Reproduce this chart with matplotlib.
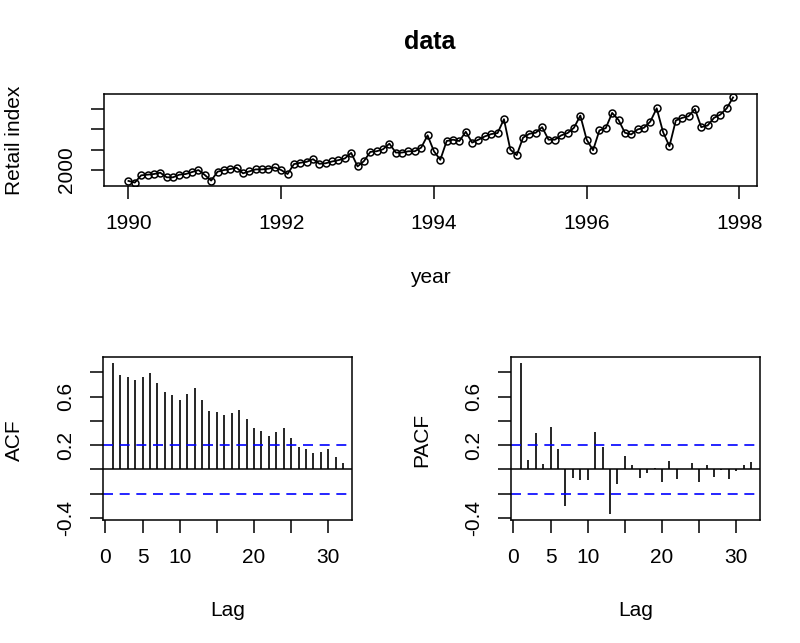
import matplotlib
matplotlib.use('Agg')
from matplotlib import pyplot as plt
import numpy as np

plt.rcParams['font.family'] = ['Liberation Sans', 'DejaVu Sans']

# monthly retail index, 1990-01 .. 1997-12
retail = [1732, 1691, 1870, 1886, 1902, 1935, 1821, 1821, 1886, 1902, 1951, 2000,
          1878, 1740, 1959, 2000, 2024, 2057, 1919, 1967, 2016, 2016, 2033, 2065,
          2000, 1902, 2146, 2179, 2203, 2268, 2154, 2167, 2211, 2244, 2285, 2423,
          2089, 2220, 2447, 2463, 2512, 2650, 2431, 2431, 2463, 2463, 2553, 2854,
          2463, 2252, 2715, 2748, 2715, 2943, 2675, 2748, 2829, 2886, 2911, 3252,
          2504, 2366, 2797, 2894, 2919, 3057, 2748, 2748, 2854, 2911, 3041, 3341,
          2748, 2488, 2976, 3033, 3407, 3236, 2919, 2878, 3000, 3041, 3195, 3520,
          2935, 2585, 3220, 3285, 3325, 3504, 3057, 3098, 3285, 3366, 3520, 3789]
start_year = 1990

# sample autocorrelations, lags 1..32
acf_vals = [0.877, 0.781, 0.764, 0.740, 0.764, 0.797, 0.712, 0.641, 0.611, 0.570,
            0.619, 0.674, 0.573, 0.485, 0.471, 0.447, 0.468, 0.488, 0.416, 0.342,
            0.318, 0.271, 0.307, 0.345, 0.255, 0.186, 0.164, 0.137, 0.145, 0.164,
            0.101, 0.049]
pacf_vals = [0.877, 0.077, 0.301, 0.041, 0.351, 0.167, -0.299, -0.068, -0.088, -0.088,
             0.310, 0.181, -0.370, -0.123, 0.110, 0.033, -0.074, -0.027, 0.014, -0.107,
             0.068, -0.082, 0.005, 0.049, -0.107, 0.036, -0.063, -0.005, -0.082, -0.014,
             0.036, 0.058]
ci = 0.2

year_ticks = [1990, 1992, 1994, 1996, 1998]
y_ticks = [2000, 2500, 3000, 3500]
y_labels = ['2000', '', '', '']
lag_ticks = [0, 5, 10, 15, 20, 25, 30]
lag_labels = ['0', '5', '10', '', '20', '', '30']
cf_ticks = [-0.4, -0.2, 0.0, 0.2, 0.4, 0.6, 0.8]
cf_labels = ['-0.4', '', '', '0.2', '', '0.6', '']

W, H = 800, 643
fig = plt.figure(figsize=(W / 100, H / 100), dpi=100)


def px_axes(x0, y0, x1, y1):
    # pixel box (from top-left) -> axes
    return fig.add_axes([x0 / W, 1 - y1 / H, (x1 - x0) / W, (y1 - y0) / H])


def r_style(ax):
    for s in ax.spines.values():
        s.set_linewidth(1.1)
        s.set_color('black')
    ax.tick_params(direction='out', length=9.4, width=1.1, labelsize=15, pad=10.5)
    for lab in ax.get_yticklabels():
        lab.set_rotation(90)
        lab.set_va('center')


# top: time series
ax = px_axes(104, 94, 757, 186)
t = start_year + np.arange(len(retail)) / 12.0
ax.plot(t, retail, color='black', linewidth=1.3, marker='o', markersize=5,
        markerfacecolor='none', markeredgewidth=1.1, markeredgecolor='black')
ax.set_xlim(1989.68, 1998.23)
ax.set_ylim(1607, 3873)
ax.set_xticks(year_ticks)
ax.set_yticks(y_ticks)
ax.set_yticklabels(y_labels)
r_style(ax)

fig.text(430 / W, 1 - 42 / H, 'data', ha='center', va='center', fontsize=18, fontweight='bold')
fig.text(430 / W, 1 - 278 / H, 'year', ha='center', va='center', fontsize=15)
fig.text(14 / W, 1 - 140 / H, 'Retail index', ha='center', va='center', fontsize=15, rotation=90)

# bottom: ACF and PACF
lags = np.arange(1, len(acf_vals) + 1)
for (x0, x1), vals, name in [((103, 352), acf_vals, 'ACF'), ((511, 760), pacf_vals, 'PACF')]:
    ax = px_axes(x0, 357, x1, 520)
    ax.vlines(lags, 0, vals, color='black', linewidth=1.2)
    ax.axhline(0, color='black', linewidth=1.1)
    for c in (ci, -ci):
        ax.axhline(c, color='blue', linewidth=1.2, linestyle=(0, (6, 4)))
    ax.set_xlim(-0.33, 33.2)
    ax.set_ylim(-0.417, 0.926)
    ax.set_xticks(lag_ticks)
    ax.set_xticklabels(lag_labels)
    ax.set_yticks(cf_ticks)
    ax.set_yticklabels(cf_labels)
    r_style(ax)
    fig.text((x0 + x1) / 2 / W, 1 - 610 / H, 'Lag', ha='center', va='center', fontsize=15)
    fig.text((x0 - 89) / W, 1 - 440 / H, name, ha='center', va='center', fontsize=15, rotation=90)

plt.savefig('out.png', dpi=100)
